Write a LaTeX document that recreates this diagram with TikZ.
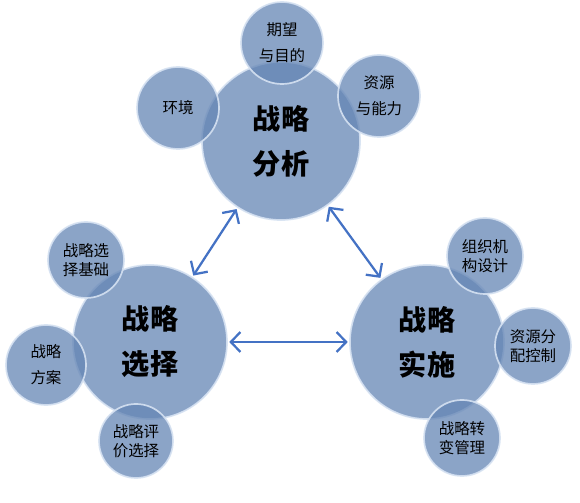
\documentclass[tikz,border=0pt]{standalone}
\usepackage{fontspec}
\setmainfont{Noto Sans CJK SC}
\usetikzlibrary{arrows.meta}
\definecolor{ballblue}{RGB}{100,133,180}
\definecolor{rimblue}{RGB}{214,226,242}
\definecolor{arrowblue}{RGB}{68,114,196}

\begin{document}
\begin{tikzpicture}[x=0.025cm,y=-0.025cm,
	ball/.style={circle,inner sep=0pt,fill=ballblue,fill opacity=0.75,text opacity=1,draw=rimblue,draw opacity=0.9,line width=1.2pt,align=center},
	big/.style={ball,minimum size=3.85cm,font=\fontsize{20}{32}\selectfont\bfseries},
	small/.style={ball,minimum size=1.9cm,font=\fontsize{11}{14}\selectfont},
	wide/.style={small,font=\fontsize{11}{18.5}\selectfont},
	link/.style={{Straight Barb[length=2.4mm,width=5mm]}-{Straight Barb[length=2.4mm,width=5mm]},arrowblue,line width=1.6pt,shorten <=1pt,shorten >=1pt}]

	\useasboundingbox (0,0) rectangle (580,503);

	% three main stages
	\node (ana) [big,minimum size=3.95cm] at (281,141) {战略\\分析};
	\node (sel) [big] at (150,342) {战略\\选择};
	\node (imp) [big] at (427,342) {战略\\实施};

	% around the analysis stage
	\node (goal) [wide,minimum size=2.05cm] at (282,43) {期望\\与目的};
	\node (env) [wide,minimum size=2.05cm] at (178,108) {环境};
	\node (res) [wide,minimum size=2.05cm] at (379,96) {资源\\与能力};

	% around the choice stage
	\node (base) [small] at (86,260) {战略选\\择基础};
	\node (plan) [wide,minimum size=2cm] at (46,365) {战略\\方案};
	\node (eval) [small,minimum size=1.85cm] at (136,441) {战略评\\价选择};

	% around the implementation stage
	\node (org) [small] at (485,256) {组织机\\构设计};
	\node (ctrl) [small] at (533,346) {资源分\\配控制};
	\node (chg) [small] at (462,438) {战略转\\变管理};

	\draw [link] (ana) to (sel);
	\draw [link] (ana) to (imp);
	\draw [link] (sel) to (imp);

\end{tikzpicture}
\end{document}
